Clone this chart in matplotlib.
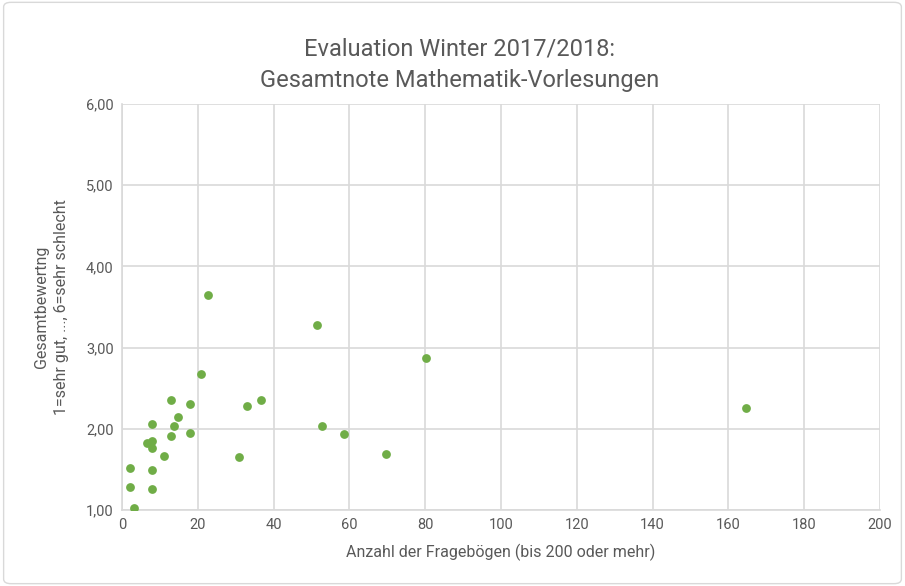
import matplotlib
matplotlib.use("Agg")
import matplotlib.pyplot as plt
from matplotlib.patches import FancyBboxPatch

plt.rcParams['font.family'] = ['Roboto', 'DejaVu Sans']

x_vals = [22.6, 20.8, 12.8, 18.0, 32.9, 36.6, 14.7, 7.8, 13.8, 12.8, 18.0, 6.7, 7.8, 7.8,
          11.0, 31.0, 2.1, 7.8, 2.1, 7.8, 3.1, 51.5, 80.3, 52.9, 58.5, 69.7, 164.7]
y_vals = [3.65, 2.67, 2.35, 2.30, 2.28, 2.35, 2.15, 2.06, 2.04, 1.91, 1.95, 1.82, 1.85, 1.76,
          1.67, 1.65, 1.52, 1.49, 1.28, 1.26, 1.02, 3.28, 2.87, 2.04, 1.93, 1.69, 2.26]
x_ticks = [0, 20, 40, 60, 80, 100, 120, 140, 160, 180, 200]
y_ticks = [1, 2, 3, 4, 5, 6]

txt = '#595959'
grid = '#d9d9d9'

fig = plt.figure(figsize=(9.05, 5.86), dpi=100)
border = FancyBboxPatch((0.004, 0.004), 0.992, 0.992, boxstyle="round,pad=0,rounding_size=0.008",
                        transform=fig.transFigure, fill=False, edgecolor='#d9d9d9', linewidth=1)
fig.patches.append(border)

ax = fig.add_axes([0.1348, 0.1297, 0.9724 - 0.1348, 0.8225 - 0.1297])
ax.scatter(x_vals, y_vals, s=40, color='#70AD47', zorder=3, linewidths=0)
ax.set_xlim(0, 200)
ax.set_ylim(1, 6)
ax.set_xticks(x_ticks)
ax.set_yticks(y_ticks)
ax.set_yticklabels([f"{v:.2f}".replace('.', ',') for v in y_ticks])
ax.grid(True, color=grid, linewidth=1.2)
ax.set_axisbelow(True)
for s in ['top', 'right']:
    ax.spines[s].set_visible(False)
ax.spines['left'].set_color(grid)
ax.spines['bottom'].set_color(grid)
ax.spines['left'].set_linewidth(1.2)
ax.spines['bottom'].set_linewidth(1.2)
ax.tick_params(length=0, colors=txt, labelsize=10.5, pad=6)

ax.set_xlabel('Anzahl der Fragebögen (bis 200 oder mehr)', color=txt, fontsize=11.5, labelpad=8)
ax.set_ylabel('Gesamtbewertng\n1=sehr gut, ..., 6=sehr schlecht', color=txt, fontsize=11.5,
              labelpad=12, linespacing=1.45)
fig.text(0.508, 0.89, 'Evaluation Winter 2017/2018:\nGesamtnote Mathematik-Vorlesungen',
         ha='center', va='center', color=txt, fontsize=17, linespacing=1.45)

fig.savefig('out.png', dpi=100)
